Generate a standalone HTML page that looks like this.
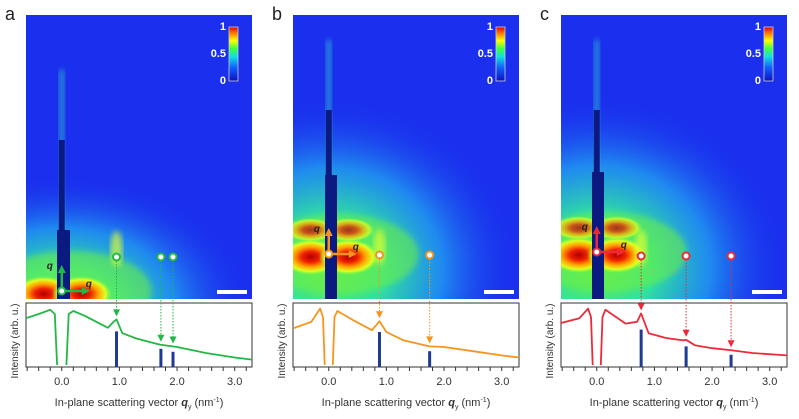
<!DOCTYPE html>
<html><head><meta charset="utf-8">
<style>
html,body{margin:0;background:#fff;width:799px;height:419px;overflow:hidden;font-family:"Liberation Sans",sans-serif;}
svg{position:absolute;left:0;top:0;display:block;}
</style></head>
<body>
<svg id="fig" width="799" height="419" viewBox="0 0 799 419">
<defs>
  <linearGradient id="cbar" x1="0" y1="1" x2="0" y2="0">
    <stop offset="0" stop-color="#1010c0"/><stop offset="0.25" stop-color="#1060ff"/>
    <stop offset="0.45" stop-color="#10e0e0"/><stop offset="0.6" stop-color="#40ff40"/>
    <stop offset="0.75" stop-color="#ffff00"/><stop offset="0.88" stop-color="#ff8000"/>
    <stop offset="1" stop-color="#e00000"/>
  </linearGradient>
  <radialGradient id="glow" cx="0.5" cy="0.5" r="0.5">
    <stop offset="0" stop-color="#60f050"/><stop offset="0.3" stop-color="#30e0a0"/>
    <stop offset="0.6" stop-color="#20a0f0" stop-opacity="0.8"/><stop offset="1" stop-color="#1a30ee" stop-opacity="0"/>
  </radialGradient>
  <radialGradient id="hot" cx="0.5" cy="0.5" r="0.5">
    <stop offset="0" stop-color="#b00000"/><stop offset="0.3" stop-color="#f02000"/>
    <stop offset="0.55" stop-color="#ffa000"/><stop offset="0.8" stop-color="#e0ff20"/>
    <stop offset="1" stop-color="#80ff40" stop-opacity="0"/>
  </radialGradient>
  <filter id="blur"><feGaussianBlur stdDeviation="3"/></filter>
</defs>
</svg>
<script>
// shared axis range
const qDomain = [-0.62, 3.3];
const tickLabels = ["0.0","1.0","2.0","3.0"];
const tickValues = [0,1,2,3];
// panel a (green)
const qA = [-0.62,-0.4,-0.2,-0.12,-0.08,null,0.08,0.12,0.2,0.4,0.6,0.8,0.9,0.95,1.05,1.3,1.7,2.0,2.5,3.0,3.3];
const iA = [0.78,0.85,0.92,0.85,0,null,0,0.85,0.9,0.82,0.72,0.62,0.72,0.76,0.53,0.44,0.34,0.3,0.2,0.125,0.09];
const peaksA = [0.95,1.72,1.93];
const barsA = [0.56,0.27,0.22];
// panel b (orange)
const qB = [-0.62,-0.3,-0.15,-0.1,-0.07,null,0.07,0.1,0.15,0.4,0.75,0.88,1.0,1.3,1.75,2.0,2.5,3.0,3.3];
const iB = [0.61,0.72,0.94,0.8,0,null,0,0.8,0.9,0.76,0.58,0.73,0.55,0.41,0.31,0.3,0.23,0.16,0.125];
const peaksB = [0.88,1.75];
const barsB = [0.55,0.23];
// panel c (red)
const qC = [-0.62,-0.3,-0.15,-0.1,-0.07,null,0.07,0.1,0.15,0.5,0.7,0.77,0.9,1.2,1.5,1.55,1.7,2.0,2.3,2.7,3.3];
const iC = [0.7,0.78,0.94,0.8,0,null,0,0.8,0.92,0.69,0.72,0.86,0.53,0.45,0.41,0.42,0.33,0.28,0.25,0.2,0.16];
const peaksC = [0.77,1.55,2.33];
const barsC = [0.59,0.31,0.17];

const NS="http://www.w3.org/2000/svg";
const svg=document.getElementById('fig');
function mk(tag,attrs,parent){const e=document.createElementNS(NS,tag);for(const k in attrs)e.setAttribute(k,attrs[k]);(parent||svg).appendChild(e);return e;}
function interp(qs,vs,q){for(let j=0;j<qs.length-1;j++){const a=qs[j],b=qs[j+1];if(a===null||b===null)continue;if(q>=a&&q<=b){return vs[j]+(vs[j+1]-vs[j])*(q-a)/(b-a);}}return 0.5;}

const panels=[
 {id:'a',x0:26,col:'#22b845',q:qA,v:iA,pk:peaksA,bars:barsA,oy:291,spotY:257,bs:[57,70,230],thin:140},
 {id:'b',x0:293,col:'#f7941d',q:qB,v:iB,pk:peaksB,bars:barsB,oy:254,spotY:255,bs:[325,337,175],thin:110},
 {id:'c',x0:561,col:'#ee2a3a',q:qC,v:iC,pk:peaksC,bars:barsC,oy:252,spotY:256,bs:[592,604,172],thin:110}
];
const W=226, imgTop=15, imgBot=299, pTop=303, pBot=367;
panels.forEach(p=>{
  const xs=q=>p.x0+(q-qDomain[0])/(qDomain[1]-qDomain[0])*W;
  const ys=v=>pBot-2-v*(pBot-pTop-4);
  const g=mk('g',{});
  
  
  const lab=mk('text',{x:p.x0-21,y:20,'font-size':18,fill:'#222'},g);lab.textContent=p.id;
  
  
  const im=mk('g',{},g);
  
  
  const cp='clip'+p.id;
  const c=mk('clipPath',{id:cp},svg.querySelector('defs'));
  mk('rect',{x:p.x0,y:imgTop,width:W,height:imgBot-imgTop},c);
  im.setAttribute('clip-path','url(#'+cp+')');
  mk('rect',{x:p.x0,y:imgTop,width:W,height:imgBot-imgTop,fill:'#1a30ee'},im);
  const ox=xs(0);
  mk('ellipse',{cx:ox,cy:p.oy+15,rx:190,ry:p.id==='a'?130:170,fill:'url(#glow)'},im);
  mk('ellipse',{cx:ox+10,cy:p.oy,rx:80,ry:40,fill:'#70f040',opacity:0.55,filter:'url(#blur)'},im);
  mk('ellipse',{cx:ox-18,cy:p.oy+3,rx:30,ry:18,fill:'url(#hot)'},im);
  mk('ellipse',{cx:ox+20,cy:p.oy+3,rx:30,ry:18,fill:'url(#hot)'},im);
  if(p.id!=='a'){mk('ellipse',{cx:ox-18,cy:p.oy-24,rx:26,ry:12,fill:'url(#hot)',opacity:0.75},im);
    mk('ellipse',{cx:ox+20,cy:p.oy-24,rx:26,ry:12,fill:'url(#hot)',opacity:0.75},im);}
  mk('ellipse',{cx:xs(p.pk[0]),cy:p.spotY-8,rx:6,ry:18,fill:'#e0ff30',opacity:0.7,filter:'url(#blur)'},im);
  mk('rect',{x:ox-3,y:p.thin-70,width:6,height:p.bs[2]-p.thin+70,fill:'#30e0c0',opacity:0.5,filter:'url(#blur)'},im);
  mk('rect',{x:ox-3,y:p.thin,width:6,height:p.bs[2]-p.thin,fill:'#0a1a80'},im);
  mk('rect',{x:p.bs[0],y:p.bs[2],width:p.bs[1]-p.bs[0],height:imgBot-p.bs[2],fill:'#0a1a80'},im);
  const cb=mk('g',{},g);
  
  
  const cx=p.x0+W-23;
  mk('rect',{x:cx,y:27,width:9,height:54,fill:'url(#cbar)',stroke:'#ccc','stroke-width':0.8},cb);
  [['1',30],['0.5',57],['0',84]].forEach(([t,y])=>{const e=mk('text',{x:cx-3,y:y,'font-size':11,fill:'#fff','text-anchor':'end','font-weight':'bold'},cb);e.textContent=t;});
  const sb=mk('rect',{x:p.x0+W-35,y:290,width:30,height:4,fill:'#fff'},g);
  
  
  const ar=mk('g',{},g);
  
  
  mk('line',{x1:ox,y1:p.oy,x2:ox,y2:p.oy-20,stroke:p.col,'stroke-width':2.5},ar);
  mk('polygon',{points:`${ox-4},${p.oy-18} ${ox+4},${p.oy-18} ${ox},${p.oy-26}`,fill:p.col},ar);
  mk('line',{x1:ox,y1:p.oy,x2:ox+22,y2:p.oy,stroke:p.col,'stroke-width':2.5},ar);
  mk('polygon',{points:`${ox+20},${p.oy-4} ${ox+20},${p.oy+4} ${ox+28},${p.oy}`,fill:p.col},ar);
  mk('circle',{cx:ox,cy:p.oy,r:3.5,fill:'#fff',stroke:p.col,'stroke-width':2},ar);
  let t=mk('text',{x:ox-15,y:p.oy-22,'font-size':10,'font-style':'italic','font-weight':'bold',fill:'#222'},ar);t.textContent='q';
  t=mk('text',{x:ox+24,y:p.oy-4,'font-size':10,'font-style':'italic','font-weight':'bold',fill:'#222'},ar);t.textContent='q';
  const pb=mk('rect',{x:p.x0,y:pTop,width:W,height:pBot-pTop,fill:'#fff',stroke:'#333','stroke-width':1},g);
  
  
  p.pk.forEach((q,i)=>{
    const x=xs(q);
    const s=mk('circle',{cx:x,cy:p.spotY,r:3.5,fill:'#fff',stroke:p.col,'stroke-width':2},g);
    
    
    const yEnd=ys(interp(p.q,p.v,q))-3;
    mk('line',{x1:x,y1:p.spotY+4,x2:x,y2:yEnd-5,stroke:p.col,'stroke-width':1,'stroke-dasharray':'1.5,1.5'},g);
    mk('polygon',{points:`${x-3.5},${yEnd-7} ${x+3.5},${yEnd-7} ${x},${yEnd}`,fill:p.col},g);
  });
  p.bars.forEach((b,i)=>{
    const r=mk('rect',{x:xs(p.pk[i])-1.5,y:ys(b),width:3,height:pBot-ys(b),fill:'#1f3a93'},g);
    
    
  });
  let d='',pen=false;
  p.q.forEach((q,j)=>{if(q===null){pen=false;return;}d+=(pen?'L':'M')+xs(q).toFixed(1)+','+ys(p.v[j]).toFixed(1);pen=true;});
  const cv=mk('path',{d:d,fill:'none',stroke:p.col,'stroke-width':1.8,'stroke-linejoin':'round'},g);
  
  
  for(let q=-0.6;q<=3.3;q+=0.2){const x=xs(q);mk('line',{x1:x,y1:pBot,x2:x,y2:pBot+4,stroke:'#333','stroke-width':1},g);}
  tickValues.forEach((v,i)=>{const e=mk('text',{x:xs(v),y:385,'font-size':11,fill:'#333','text-anchor':'middle'},g);e.textContent=tickLabels[i];
    
    });
  const xt=mk('text',{x:p.x0+W/2,y:406,'font-size':11,fill:'#333','text-anchor':'middle'},g);
  xt.innerHTML='In-plane scattering vector <tspan font-style="italic" font-weight="bold">q</tspan><tspan font-size="7" dy="3">y</tspan><tspan dy="-3"> (nm</tspan><tspan font-size="7" dy="-4">-1</tspan><tspan dy="4">)</tspan>';
  
  
  const yt=mk('text',{x:0,y:0,'font-size':10,fill:'#333','text-anchor':'middle',transform:`translate(${p.x0-8},${(pTop+pBot)/2+6}) rotate(-90)`},g);
  yt.textContent='Intensity (arb. u.)';
  
  
});
</script>
</body></html>
